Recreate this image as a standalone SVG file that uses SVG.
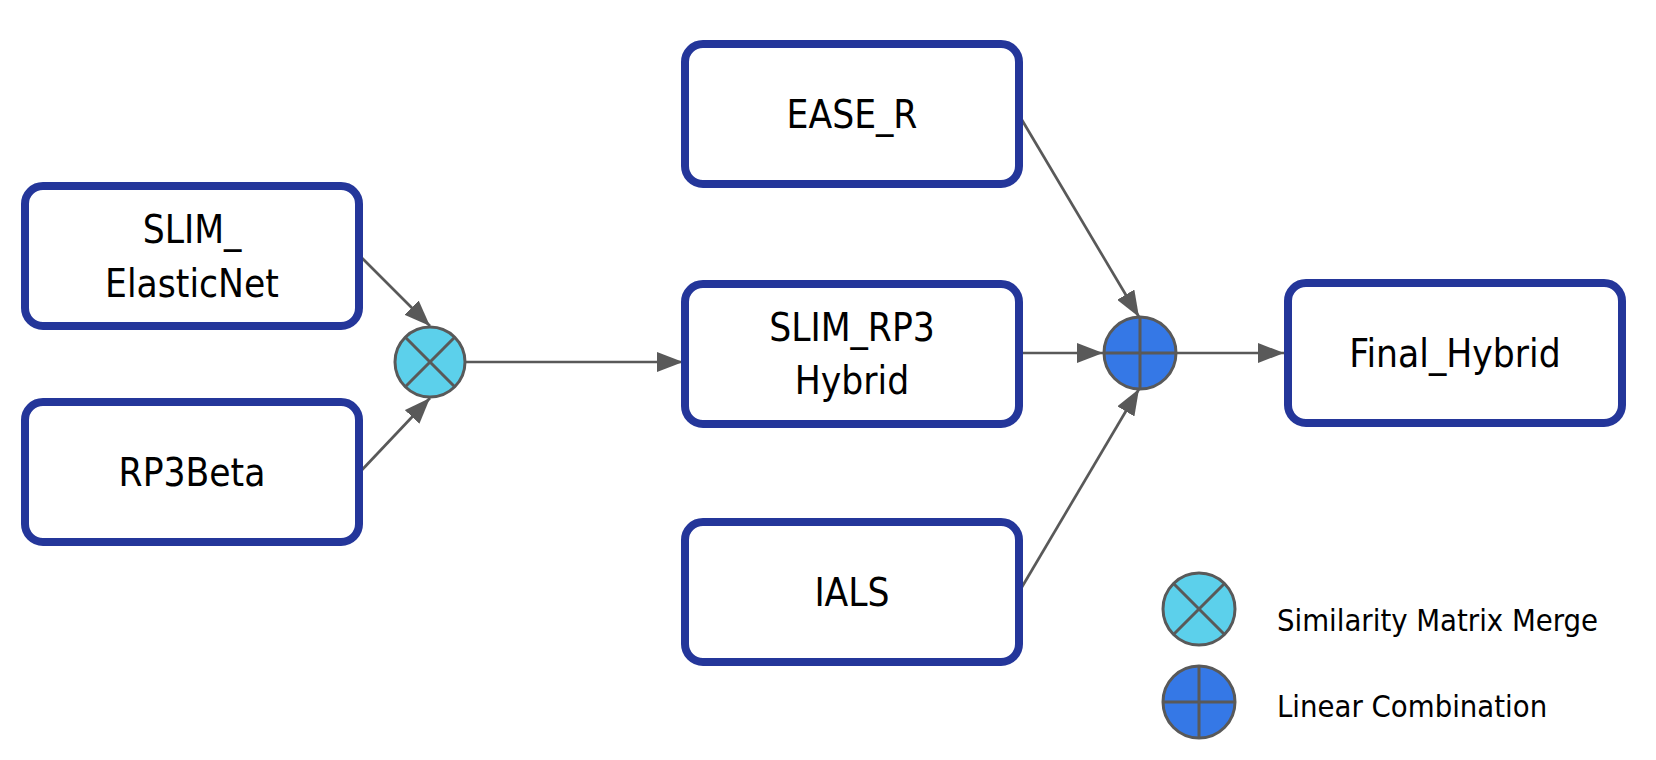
<svg xmlns="http://www.w3.org/2000/svg" width="1656" height="760" viewBox="0 0 1656 760">
  <style>
    .box { fill: #ffffff; stroke: #24369a; stroke-width: 8; }
    .lbl { font-family: "DejaVu Sans Condensed", "DejaVu Sans", sans-serif; font-stretch: condensed; font-size: 38.5px; fill: #000000; text-anchor: middle; }
    .leg { font-family: "DejaVu Sans Condensed", "DejaVu Sans", sans-serif; font-stretch: condensed; font-size: 30.7px; fill: #000000; }
    .conn { fill: none; stroke: #595959; stroke-width: 2.7; }
    .op { stroke: #595959; stroke-width: 3; }
    .opl { stroke: #595959; stroke-width: 3; fill: none; }
    .merge { fill: #5cd0eb; }
    .lin { fill: #3578e6; }
  </style>
  <defs>
    <marker id="arrow" markerUnits="userSpaceOnUse" markerWidth="27" markerHeight="20" refX="26" refY="10" orient="auto">
      <path d="M0,0 L26,10 L0,20 z" fill="#595959"/>
    </marker>
  </defs>

  <g id="connectors">
    <line class="conn" x1="360" y1="256" x2="430" y2="326" marker-end="url(#arrow)"/>
    <line class="conn" x1="360" y1="472" x2="430" y2="398" marker-end="url(#arrow)"/>
    <line class="conn" x1="466" y1="362" x2="683" y2="362" marker-end="url(#arrow)"/>
    <line class="conn" x1="1019" y1="115" x2="1139" y2="317" marker-end="url(#arrow)"/>
    <line class="conn" x1="1019" y1="353" x2="1103" y2="353" marker-end="url(#arrow)"/>
    <line class="conn" x1="1019" y1="592" x2="1139" y2="389" marker-end="url(#arrow)"/>
    <line class="conn" x1="1176" y1="353" x2="1284" y2="353" marker-end="url(#arrow)"/>
  </g>

  <g id="node-slim-elasticnet">
    <rect class="box" x="25" y="186" width="334" height="140" rx="18"/>
    <text class="lbl" x="192" y="243">SLIM_</text>
    <text class="lbl" x="192" y="297">ElasticNet</text>
  </g>
  <g id="node-rp3beta">
    <rect class="box" x="25" y="402" width="334" height="140" rx="18"/>
    <text class="lbl" x="192" y="486">RP3Beta</text>
  </g>
  <g id="node-merge">
    <circle class="op merge" cx="430" cy="362" r="35"/>
    <line class="opl" x1="405.3" y1="337.3" x2="454.7" y2="386.7"/>
    <line class="opl" x1="454.7" y1="337.3" x2="405.3" y2="386.7"/>
  </g>
  <g id="node-ease-r">
    <rect class="box" x="685" y="44" width="334" height="140" rx="18"/>
    <text class="lbl" x="852" y="128">EASE_R</text>
  </g>
  <g id="node-slim-rp3-hybrid">
    <rect class="box" x="685" y="284" width="334" height="140" rx="18"/>
    <text class="lbl" x="852" y="341">SLIM_RP3</text>
    <text class="lbl" x="852" y="394">Hybrid</text>
  </g>
  <g id="node-ials">
    <rect class="box" x="685" y="522" width="334" height="140" rx="18"/>
    <text class="lbl" x="852" y="606">IALS</text>
  </g>
  <g id="node-linear">
    <circle class="op lin" cx="1140" cy="353" r="36"/>
    <line class="opl" x1="1104" y1="353" x2="1176" y2="353"/>
    <line class="opl" x1="1140" y1="317" x2="1140" y2="389"/>
  </g>
  <g id="node-final-hybrid">
    <rect class="box" x="1288" y="283" width="334" height="140" rx="18"/>
    <text class="lbl" x="1455" y="367">Final_Hybrid</text>
  </g>

  <g id="legend">
    <g id="legend-merge">
      <circle class="op merge" cx="1199" cy="609" r="36"/>
      <line class="opl" x1="1173.5" y1="583.5" x2="1224.5" y2="634.5"/>
      <line class="opl" x1="1224.5" y1="583.5" x2="1173.5" y2="634.5"/>
      <text class="leg" x="1277" y="631">Similarity Matrix Merge</text>
    </g>
    <g id="legend-linear">
      <circle class="op lin" cx="1199" cy="702" r="36"/>
      <line class="opl" x1="1163" y1="702" x2="1235" y2="702"/>
      <line class="opl" x1="1199" y1="666" x2="1199" y2="738"/>
      <text class="leg" x="1277" y="717">Linear Combination</text>
    </g>
  </g>
</svg>
